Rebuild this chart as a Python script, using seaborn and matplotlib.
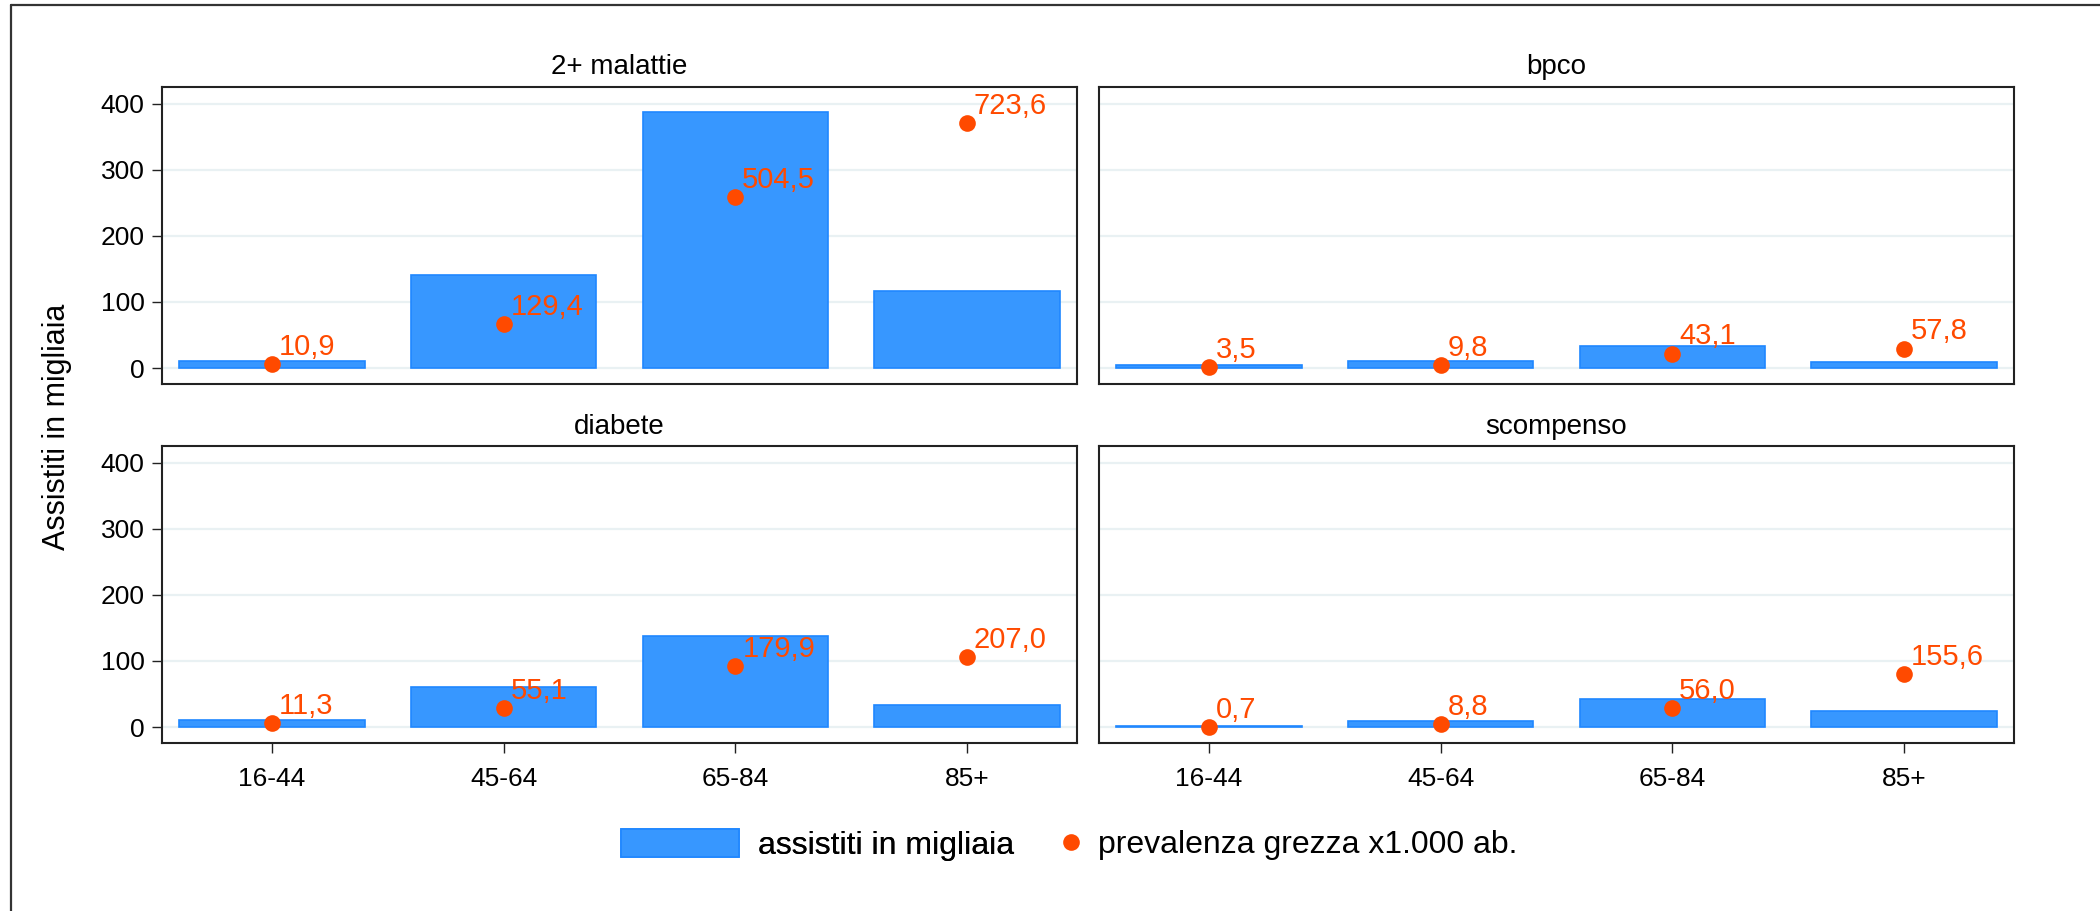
import matplotlib
matplotlib.use("Agg")
import matplotlib.pyplot as plt
from matplotlib.patches import Patch
from matplotlib.lines import Line2D
import numpy as np
import pandas as pd
import seaborn as sns

# data
ages = ["16-44", "45-64", "65-84", "85+"]
diseases = ["2+ malattie", "bpco", "diabete", "scompenso"]

# assistiti in migliaia (bars)
assistiti = {
    "2+ malattie": [11, 141, 387, 116],
    "bpco": [4, 11, 33, 9],
    "diabete": [11, 60, 138, 33],
    "scompenso": [2, 9, 43, 25],
}
# prevalenza grezza x1.000 ab. (dots, drawn on a compressed scale)
prevalenza = {
    "2+ malattie": [10.9, 129.4, 504.5, 723.6],
    "bpco": [3.5, 9.8, 43.1, 57.8],
    "diabete": [11.3, 55.1, 179.9, 207.0],
    "scompenso": [0.7, 8.8, 56.0, 155.6],
}
prev_scale = 1 / 1.95

BAR_COLOR = "#3797ff"
BAR_EDGE = "#1f87ff"
DOT_COLOR = "#ff4a00"
GRID_COLOR = "#e9f1f3"
FRAME = "#222222"

sns.set_style("white")
plt.rcParams["font.family"] = ["Liberation Sans", "DejaVu Sans"]
plt.rcParams["text.color"] = "black"
plt.rcParams["xtick.color"] = "black"
plt.rcParams["ytick.color"] = "black"
plt.rcParams["axes.labelcolor"] = "black"

rows = []
for d in diseases:
    for a, n, p in zip(ages, assistiti[d], prevalenza[d]):
        rows.append({"malattia": d, "eta": a, "assistiti": n,
                     "prevalenza": p, "prev_plot": p * prev_scale})
df = pd.DataFrame(rows)

W, H = 2100, 911
fig = plt.figure(figsize=(W / 100, H / 100), dpi=100)

lefts = [162, 1099]
tops = [87, 446]
pw, ph = 915, 297

for k, d in enumerate(diseases):
    r, c = divmod(k, 2)
    ax = fig.add_axes([lefts[c] / W, (H - tops[r] - ph) / H, pw / W, ph / H])
    sub = df[df["malattia"] == d]

    for yv in [0, 100, 200, 300, 400]:
        ax.axhline(yv, color=GRID_COLOR, lw=1.6, zorder=0)

    sns.barplot(data=sub, x="eta", y="assistiti", order=ages, ax=ax,
                color=BAR_COLOR, saturation=1, width=0.8,
                edgecolor=BAR_EDGE, linewidth=1.2, zorder=2, errorbar=None)
    sns.stripplot(data=sub, x="eta", y="prev_plot", order=ages, ax=ax,
                  color=DOT_COLOR, jitter=False, size=12, linewidth=0,
                  zorder=3)

    for i, (p, py) in enumerate(zip(sub["prevalenza"], sub["prev_plot"])):
        ax.annotate(f"{p:.1f}".replace(".", ","), xy=(i, py),
                    xytext=(5, 6.5), textcoords="offset points",
                    ha="left", va="baseline", color=DOT_COLOR,
                    fontsize=21, zorder=4)

    ax.set_xlim(-0.475, 3.475)
    ax.set_ylim(-24, 425)
    ax.set_yticks([0, 100, 200, 300, 400])
    ax.set_xlabel("")
    ax.set_ylabel("")
    ax.set_title(d, fontsize=20, pad=9, color="black")
    for s in ax.spines.values():
        s.set_color(FRAME)
        s.set_linewidth(1.5)
        s.set_visible(True)

    if c == 0:
        ax.tick_params(axis="y", left=True, length=7.5, width=1, pad=5,
                       labelsize=19, color=FRAME, labelcolor="black")
    else:
        ax.tick_params(axis="y", left=False, labelleft=False)
    if r == 1:
        ax.tick_params(axis="x", bottom=True, length=7.5, width=1, pad=10,
                       labelsize=19, color=FRAME, labelcolor="black")
    else:
        ax.tick_params(axis="x", bottom=False, labelbottom=False)

fig.text(57 / W, (H - 427) / H, "Assistiti in migliaia", rotation=90,
         ha="center", va="center", fontsize=22, color="black")

# legend, two pieces so each handle keeps its own width
leg1 = fig.legend(handles=[Patch(facecolor=BAR_COLOR, edgecolor=BAR_EDGE,
                                 linewidth=1.2, label="assistiti in migliaia")],
                  loc="center left", bbox_to_anchor=(621 / W, (H - 845) / H),
                  frameon=False, fontsize=23, borderpad=0, borderaxespad=0,
                  handlelength=3.7, handleheight=1.0, handletextpad=0.6,
                  labelcolor="black")
fig.add_artist(leg1)
fig.legend(handles=[Line2D([], [], marker="o", linestyle="none",
                           markersize=12, markerfacecolor=DOT_COLOR,
                           markeredgewidth=0,
                           label="prevalenza grezza x1.000 ab.")],
           loc="center left", bbox_to_anchor=(1056 / W, (H - 845) / H),
           frameon=False, fontsize=23, borderpad=0, borderaxespad=0,
           handlelength=0.95, handletextpad=0.38, labelcolor="black")

# outer frame (top and left edges visible)
fig.add_artist(Line2D([11 / W, 1], [1 - 5 / H, 1 - 5 / H], color="#333333",
                      lw=1.6, transform=fig.transFigure))
fig.add_artist(Line2D([11 / W, 11 / W], [0, 1 - 5 / H], color="#333333",
                      lw=1.6, transform=fig.transFigure))

fig.savefig("out.png", dpi=100, facecolor="white")
